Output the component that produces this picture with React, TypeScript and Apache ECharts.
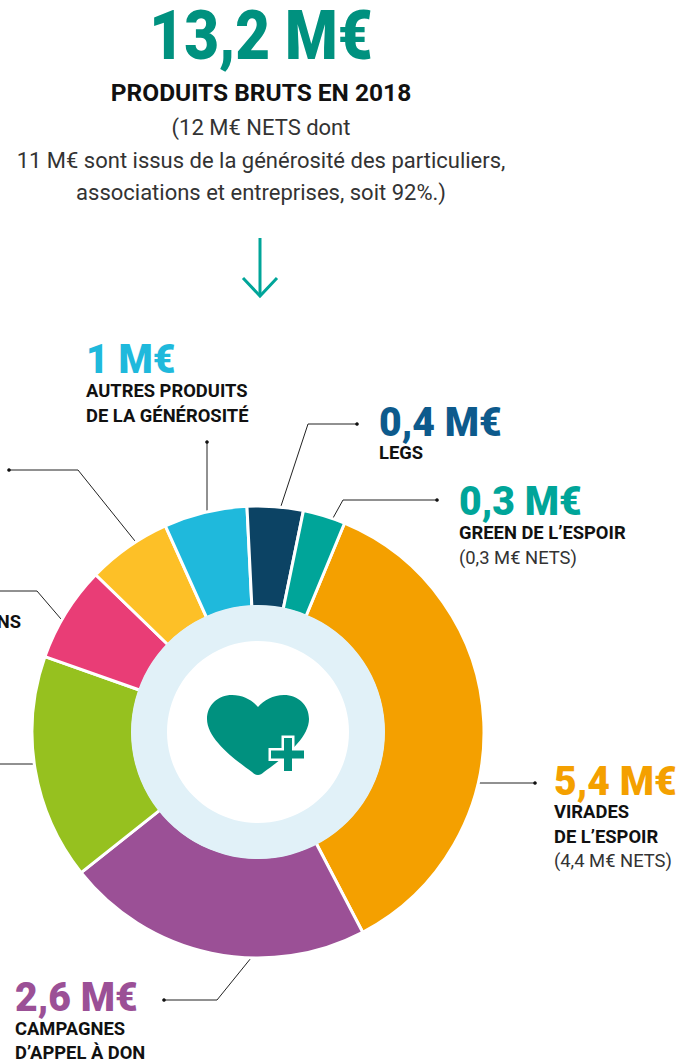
import React, { useEffect, useRef } from "react";
import * as echarts from "echarts";

// Arc shares (degrees of each slice, clockwise from the orange slice)
const sliceNames = ["Virades de l'espoir", "Campagnes d'appel à don", "Dons", "Dons et mécénat", "Autres produits", "Autres produits de la générosité", "Legs", "Green de l'espoir"];
const sliceShares = [129.9, 79.1, 58, 24.6, 21.7, 21.4, 14.4, 10.9];
const sliceColors = ["#f4a000", "#9b5096", "#96c11f", "#e93d76", "#fdc027", "#1fb9dc", "#0c4364", "#00a599"];

const headline = "13,2 M€";
const subtitle = "PRODUITS BRUTS EN 2018";
const introLines = ["(12 M€ NETS dont", "11 M€ sont issus de la générosité des particuliers,", "associations et entreprises, soit 92%.)"];

const FONT = "Roboto";
const heartPath = "M51 80 C49 80 47 79 45 77 C30 66 0 45 0 24 C0 10 11 0 25 0 C36 0 45 5 51 12 C57 5 66 0 77 0 C91 0 102 10 102 24 C102 45 72 66 57 77 C55 79 53 80 51 80 Z";
const plusPath = "M13 0 H21 V12.5 H33 V20.5 H21 V33 H13 V20.5 H0 V12.5 H13 Z";
echarts.graphic.registerShape("heart", echarts.graphic.extendPath(heartPath as any, {}) as any);
echarts.graphic.registerShape("plus", echarts.graphic.extendPath(plusPath as any, {}) as any);

const txt = (x: number, y: number, text: string, size: number, color: string, weight: any = 400, align = "left", sx = 1, sy = 1) => ({
  type: "text", x, y, scaleX: sx, scaleY: sy, silent: true,
  style: { text, fill: color, font: `${weight} ${size}px ${FONT}`, textAlign: align, textVerticalAlign: "middle" },
});
const value = (x: number, y: number, text: string, color: string) => txt(x, y, text, 38, color, 900, "left", 1.03, 1.08);
const label = (x: number, y: number, text: string, align = "left") => txt(x, y, text, 17, "#111", 700, align, 1.08, 1.03);
const note = (x: number, y: number, text: string) => txt(x, y, text, 17.5, "#333", 400, "left", 1.05, 1);
const leader = (points: number[][]) => [
  { type: "polyline", silent: true, shape: { points }, style: { stroke: "#222", lineWidth: 1, fill: "none" } },
];
const dot = (cx: number, cy: number) => ({ type: "circle", silent: true, shape: { cx, cy, r: 1.8 }, style: { fill: "#111" } });

export default function App() {
  const ref = useRef<HTMLDivElement>(null);
  useEffect(() => {
    document.body.style.margin = "0";
    const chart = echarts.init(ref.current!, undefined, { renderer: "svg" });
    const GREY = "#333";
    chart.setOption({
      animation: false,
      backgroundColor: "#fff",
      series: [
        {
          type: "pie", silent: true, center: [258, 732], radius: [125, 226], startAngle: 67.5, clockwise: true,
          label: { show: false }, labelLine: { show: false },
          itemStyle: { borderColor: "#fff", borderWidth: 3 },
          data: sliceNames.map((name, i) => ({ name, value: sliceShares[i], itemStyle: { color: sliceColors[i] } })),
        },
        {
          type: "pie", silent: true, center: [258, 732], radius: [91, 127], z: 3,
          label: { show: false }, labelLine: { show: false },
          data: [{ name: "anneau", value: 1, itemStyle: { color: "#e1f1f8" } }],
        },
      ],
      graphic: { elements: [
        txt(261, 36, headline, 62, "#00917f", 900, "center", 0.97, 1.1),
        txt(261, 92, subtitle, 24.5, "#111", 700, "center"),
        txt(261, 127, introLines[0], 22, GREY, 400, "center"),
        txt(261, 160, introLines[1], 22, GREY, 400, "center"),
        txt(261, 192, introLines[2], 22, GREY, 400, "center"),
        { type: "polyline", silent: true, shape: { points: [[260, 238], [260, 296]] }, style: { stroke: "#00a599", lineWidth: 3, fill: "none" } },
        { type: "polyline", silent: true, shape: { points: [[243, 278], [260, 296], [277, 278]] }, style: { stroke: "#00a599", lineWidth: 3, fill: "none" } },

        value(86, 359, "1 M€", "#1fb9dc"),
        label(86, 391, "AUTRES PRODUITS"),
        label(86, 416, "DE LA GÉNÉROSITÉ"),
        value(379, 422, "0,4 M€", "#0d5a8c"),
        label(379, 453, "LEGS"),
        value(459, 501, "0,3 M€", "#00a599"),
        label(459, 533, "GREEN DE L’ESPOIR"),
        note(459, 558, "(0,3 M€ NETS)"),
        value(554, 781, "5,4 M€", "#f4a000"),
        label(554, 812, "VIRADES"),
        label(554, 837, "DE L’ESPOIR"),
        note(554, 861, "(4,4 M€ NETS)"),
        value(15, 997, "2,6 M€", "#9b5096"),
        label(15, 1029, "CAMPAGNES"),
        label(15, 1053, "D’APPEL À DON"),
        label(21, 622, "DONS", "right"),

        ...leader([[207, 442], [207, 511]]), dot(207, 442),
        ...leader([[281, 506], [308, 424], [357, 424]]), dot(357, 424),
        ...leader([[333, 518], [343, 500], [437, 500]]), dot(437, 500),
        ...leader([[9, 470], [78, 470], [135, 541]]), dot(9, 470),
        ...leader([[0, 591], [37, 591], [61, 619]]),
        ...leader([[0, 764], [33, 764]]),
        ...leader([[478, 783], [535, 783]]), dot(535, 783),
        ...leader([[251, 958], [217, 1000], [164, 1000]]), dot(164, 1000),

        { type: "heart", x: 207, y: 695, silent: true, z: 10, style: { fill: "#00917f" } },
        { type: "plus", x: 271, y: 738, silent: true, z: 11, style: { fill: "#fff", stroke: "#fff", lineWidth: 5 } },
        { type: "plus", x: 271, y: 738, silent: true, z: 12, style: { fill: "#00917f" } },
      ] },
    });
    return () => chart.dispose();
  }, []);
  return <div ref={ref} style={{ width: 680, height: 1064 }} />;
}
